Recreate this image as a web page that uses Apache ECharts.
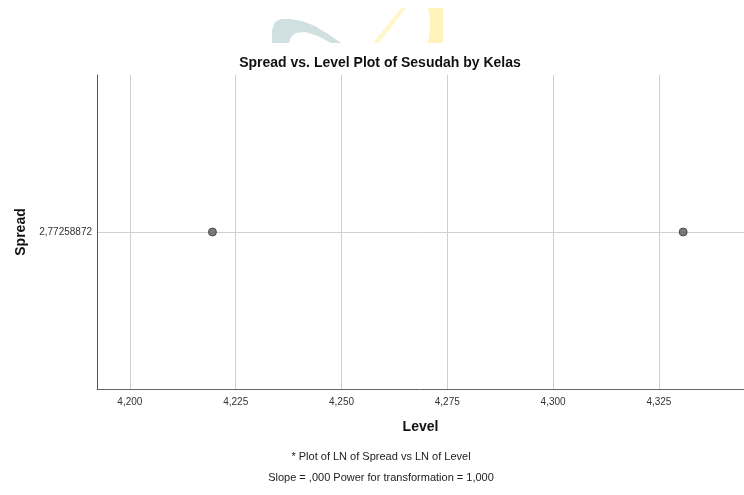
<!DOCTYPE html>
<html>
<head>
<meta charset="utf-8">
<script src="https://cdn.jsdelivr.net/npm/echarts@6/dist/echarts.min.js"></script>
<style>
  html, body { margin: 0; padding: 0; background: #fff; }
  #chart { width: 744px; height: 495px; }
</style>
</head>
<body>
<div id="chart"></div>
<script>
// LN of Level (x) and LN of Spread (y) for each Kelas group
const levelValues = [4.21950771, 4.33073334];
const spreadValues = [2.77258872, 2.77258872];
const levelTicks = [4.200, 4.225, 4.250, 4.275, 4.300, 4.325];
const spreadTicks = [2.77258872];

const points = levelValues.map((x, i) => [x, spreadValues[i]]);
const comma = (v, d) => (d == null ? String(v) : v.toFixed(d)).replace('.', ',');
const FONT = 'Liberation Sans, Arial, sans-serif';

const chart = echarts.init(document.getElementById('chart'));
chart.setOption({
  backgroundColor: '#fff',
  animation: false,
  textStyle: { fontFamily: FONT },
  grid: { left: 97, top: 75, right: 0, bottom: 106 },
  xAxis: {
    type: 'value',
    min: 4.19223, max: 4.34511,
    name: 'Level', nameLocation: 'middle', nameGap: 31,
    nameTextStyle: { fontSize: 14, fontWeight: 'bold', color: '#111' },
    axisLine: { lineStyle: { color: '#666', width: 1 } },
    axisTick: { show: false, customValues: levelTicks },
    axisLabel: { customValues: levelTicks, formatter: v => comma(v, 3), fontSize: 10, color: '#333', margin: 8 },
    splitLine: { show: true, lineStyle: { color: '#d0d0d0', width: 1 } }
  },
  yAxis: {
    type: 'value',
    min: 1.77258872, max: 3.77258872,
    name: 'Spread', nameLocation: 'middle', nameGap: 67,
    nameTextStyle: { fontSize: 14, fontWeight: 'bold', color: '#111' },
    axisLine: { show: true, lineStyle: { color: '#555', width: 1 } },
    axisTick: { show: false, customValues: spreadTicks },
    axisLabel: { customValues: spreadTicks, formatter: v => comma(v), fontSize: 10, color: '#333', margin: 5 },
    splitLine: { show: true, lineStyle: { color: '#d0d0d0', width: 1 } }
  },
  series: [{
    type: 'scatter',
    data: points,
    symbolSize: 8,
    itemStyle: { color: '#5a5a5a', borderColor: '#3a3a3a', borderWidth: 1 }
  }],
  graphic: [
    // faint logo in the top margin
    {
      type: 'polygon', z: -1,
      shape: { points: [[272, 43], [272, 30], [275, 22], [281, 19], [290, 19], [302, 21], [315, 26], [328, 34], [341, 43],
                        [331, 43], [318, 36], [305, 32], [296, 33], [291, 37], [289, 43]] },
      style: { fill: '#d0e0e0' }
    },
    {
      type: 'polygon', z: -1,
      shape: { points: [[373, 43], [401, 8], [406, 8], [379, 43]] },
      style: { fill: '#fff6cc' }
    },
    {
      type: 'polygon', z: -1,
      shape: { points: [[428, 8], [443, 8], [443, 43], [428, 43], [430, 30], [430, 18]] },
      style: { fill: '#fff3bb' }
    },
    {
      type: 'text', x: 380, y: 56,
      style: { text: 'Spread vs. Level Plot of Sesudah by Kelas', fontSize: 14, fontWeight: 'bold', fill: '#111', textAlign: 'center', fontFamily: FONT }
    },
    {
      type: 'text', x: 381, y: 451,
      style: { text: '* Plot of LN of Spread vs LN of Level', fontSize: 11, fill: '#222', textAlign: 'center', fontFamily: FONT }
    },
    {
      type: 'text', x: 381, y: 472,
      style: { text: 'Slope = ,000 Power for transformation = 1,000', fontSize: 11, fill: '#222', textAlign: 'center', fontFamily: FONT }
    }
  ]
});
</script>
</body>
</html>
